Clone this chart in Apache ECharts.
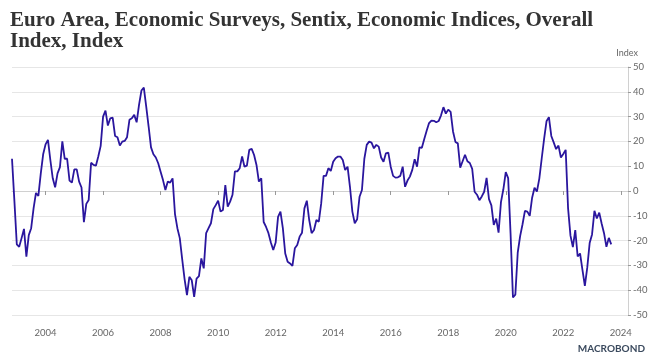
<!DOCTYPE html>
<html>
<head>
<meta charset="utf-8">
<script src="https://cdn.jsdelivr.net/npm/echarts@6/dist/echarts.min.js"></script>
<style>
html,body{margin:0;padding:0;background:#fff;}
#chart{width:652px;height:362px;}
</style>
</head>
<body>
<div id="chart"></div>
<script>
// Monthly series, first observation Nov 2002, last Sep 2023
var startYear = 2002;
var startMonth = 11;
var axisMonths = 258; // Nov 2002 .. Apr 2024 (axis extent)
var titleText = "Euro Area, Economic Surveys, Sentix, Economic Indices, Overall\nIndex, Index";
var unitLabel = "Index";
var yTicks = [-50, -40, -30, -20, -10, 0, 10, 20, 30, 40, 50];
var values = [
  13, -4, // 2002 Nov-Dec
  -21.5, -22.5, -19, -15.3, -26.5, -17.8, -15, -7, -0.8, -2, 7, 14.8, // 2003
  18.8, 20.6, 12.5, 5.1, 1.5, 7.1, 9.6, 20, 13, 13, 4.2, 3.4, // 2004
  8.7, 8.7, 3.8, 1.4, -12.6, -5.2, -3.6, 11.4, 10.5, 10.2, 13.9, 18.2, // 2005
  30, 32.4, 26.4, 29.3, 29.6, 22.2, 21.7, 18.3, 19.9, 20.2, 21.7, 28.7, // 2006
  29.3, 30.7, 27.7, 34.7, 40.5, 41.7, 34, 26, 17.6, 14.8, 13.5, 11.2, // 2007
  7.8, 4.4, 0.4, 3.8, 3.4, 5.1, -9.3, -15, -19, -27.5, -35.5, -42, // 2008
  -34.6, -36, -42.7, -35.3, -34.3, -27.2, -31.2, -17, -15, -13, -7.3, -5.7, // 2009
  -3.9, -8.3, -7.7, 2.4, -6.3, -4.3, -1.5, 7.9, 7.9, 9.2, 13.9, 9.8, // 2010
  10.2, 16.6, 17, 14.5, 10.5, 3.8, 5.1, -12.5, -14.5, -17, -20.8, -23.8, // 2011
  -20.8, -10.4, -8.3, -15, -25.2, -28.5, -29.2, -30.2, -23.1, -21.8, -18.4, -16.8, // 2012
  -7, -3.9, -11.7, -17, -15.7, -11.7, -12.4, -5, 6.1, 6.1, 9.2, 8.1, // 2013
  11.8, 13.2, 13.9, 13.9, 12.5, 8.5, 9.8, 1.7, -8.3, -13, -11.4, -2.3, // 2014
  0.4, 13, 18.6, 19.9, 19.5, 17.2, 18.6, 17.9, 13.5, 11.8, 15.2, 15.5, // 2015
  9.8, 6.1, 5.4, 5.5, 6.1, 9.8, 1.7, 4.2, 5.8, 8.5, 12.8, 9.8, // 2016
  17.6, 17.4, 21, 24.3, 27.4, 28.4, 28.3, 27.7, 28.2, 30.5, 33.8, 31.2, // 2017
  32.8, 31.9, 24, 19.8, 19.2, 9.4, 12, 14.6, 12, 11.3, 8.9, -0.3, // 2018
  -1.5, -3.7, -2.2, -0.3, 5.3, -3.3, -5.8, -13.7, -11.1, -16.8, -4.5, 0.7, // 2019
  7.6, 5.2, -17.1, -42.9, -41.8, -24.8, -18.2, -13.4, -8, -8.3, -10, -2.7, // 2020
  1.3, -0.2, 5, 13.1, 21, 28.1, 29.8, 22.2, 19.6, 16.9, 18.3, 13.5, // 2021
  14.9, 16.6, -7, -18, -22.6, -15.8, -26.4, -25.2, -31.8, -38.3, -30.9, -21, // 2022
  -17.5, -8, -11.1, -8.7, -13.1, -17, -22.5, -18.9, -21.5 // 2023 Jan-Sep
];

var months = [];
for (var k = 0; k < axisMonths; k++) {
  var m0 = startMonth - 1 + k;
  var y = startYear + Math.floor(m0 / 12);
  var m = (m0 % 12) + 1;
  months.push(y + '-' + (m < 10 ? '0' + m : m));
}
function isEvenJan(idx, val) {
  var s = months[idx];
  return s.slice(5) === '01' && (parseInt(s.slice(0, 4), 10) % 2 === 0);
}

var chart = echarts.init(document.getElementById('chart'), null, {renderer: 'canvas'});
chart.setOption({
  animation: false,
  backgroundColor: '#ffffff',
  title: {
    text: titleText,
    left: 5, top: 5,
    textStyle: {
      fontFamily: 'Liberation Serif, DejaVu Serif, serif',
      fontWeight: 'bold', fontSize: 21, lineHeight: 21, color: '#333333'
    }
  },
  graphic: [
    {type: 'text', right: 14, top: 49,
     style: {text: unitLabel, fontFamily: 'Lato, sans-serif', fontSize: 9, fill: '#666666'}},
    {type: 'text', right: 7, top: 344,
     style: {text: 'MACROBOND', fontFamily: 'Lato, sans-serif', fontWeight: 'bold', fontSize: 10, fill: '#3b4a5e'}}
  ],
  grid: {left: 12, right: 24, top: 67, bottom: 47, containLabel: false},
  xAxis: {
    type: 'category',
    data: months,
    boundaryGap: false,
    offset: 7,
    axisLine: {show: true, lineStyle: {color: '#d0d0d0', width: 1}},
    axisTick: {show: true, interval: isEvenJan, length: 4, lineStyle: {color: '#999999'}},
    axisLabel: {
      interval: isEvenJan, margin: 6,
      formatter: function (v) { return v.slice(0, 4); },
      fontFamily: 'Lato, sans-serif', fontSize: 9.5, color: '#666666'
    },
    splitLine: {show: false}
  },
  yAxis: {
    type: 'value',
    position: 'right',
    min: yTicks[0], max: yTicks[yTicks.length - 1], interval: 10,
    axisLine: {show: true, lineStyle: {color: '#d0d0d0', width: 1}},
    axisTick: {show: true, length: 3, lineStyle: {color: '#999999'}},
    axisLabel: {margin: 5, fontFamily: 'Lato, sans-serif', fontSize: 9.5, color: '#666666'},
    splitLine: {show: true, lineStyle: {color: '#e6e6e6', width: 1}}
  },
  series: [{
    type: 'line',
    data: values,
    showSymbol: false,
    symbol: 'none',
    lineStyle: {color: '#2a169e', width: 1.8},
    z: 3
  }]
});
</script>
</body>
</html>
